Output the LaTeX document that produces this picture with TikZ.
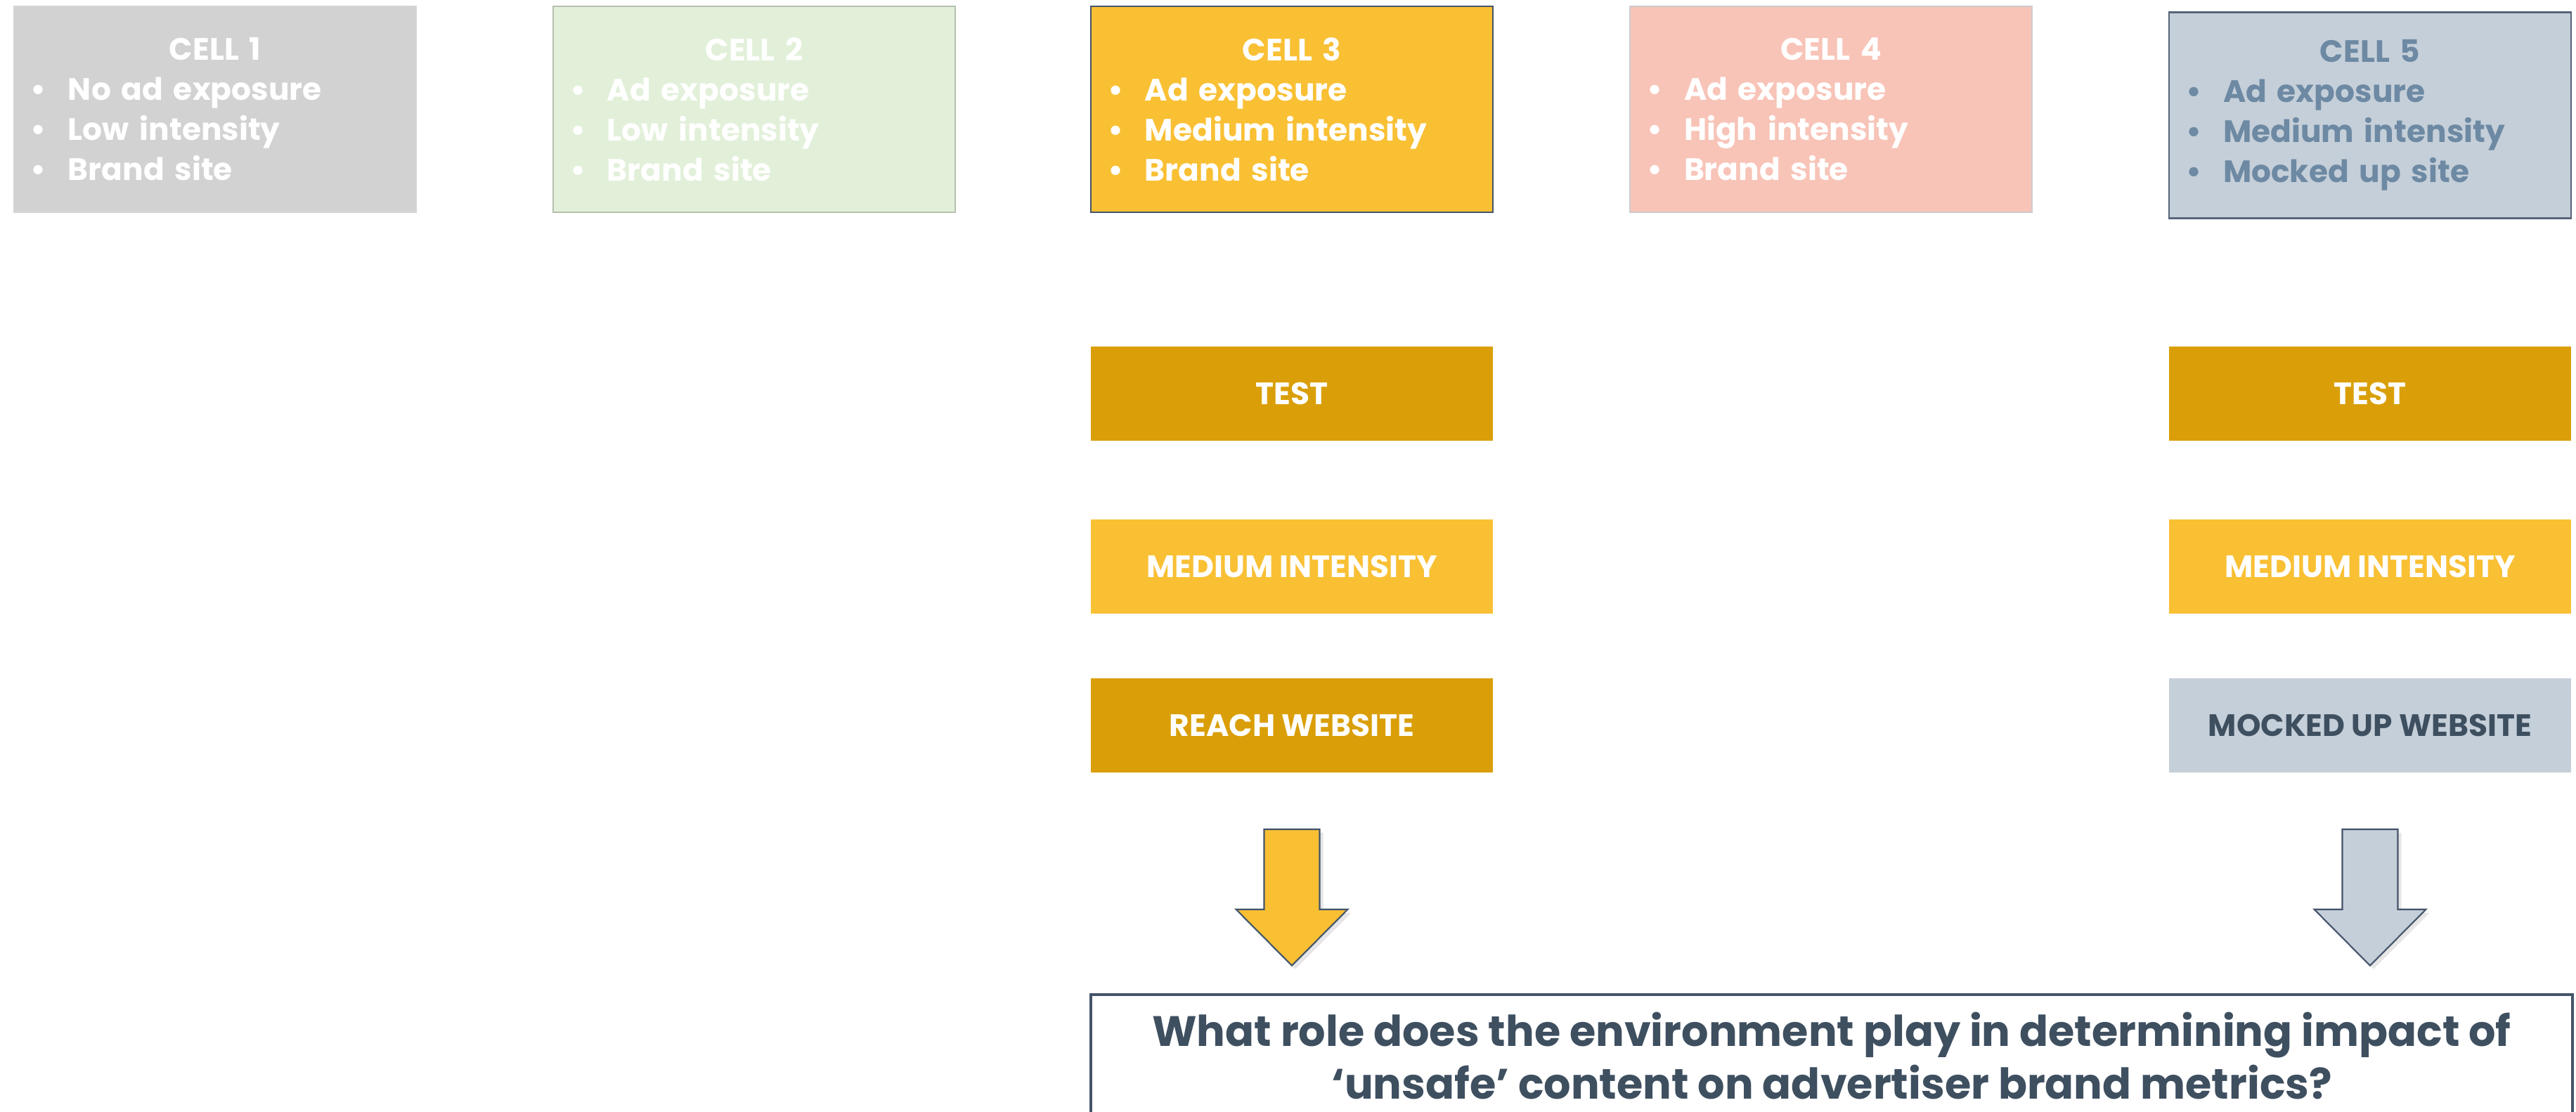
\documentclass[tikz,border=0pt]{standalone}
\usepackage{fontspec}
\setmainfont{Poppins}
\usepackage{tikz}
\usetikzlibrary{calc,shadows}

\definecolor{cellgray}{HTML}{D2D2D2}
\definecolor{cellgreen}{HTML}{E2F0D9}
\definecolor{cellgold}{HTML}{F9C034}
\definecolor{cellpink}{HTML}{F8C4B8}
\definecolor{cellblue}{HTML}{C5CFD9}
\definecolor{darkgold}{HTML}{DA9F08}
\definecolor{slate}{HTML}{44546A}
\definecolor{slatetext}{HTML}{3E4F60}
\definecolor{bluetext}{HTML}{6D89A3}

\tikzset{
    cell/.style={minimum width=5.72cm, minimum height=2.93cm, inner sep=0pt,
        text width=5.72cm, align=center, text=white, line width=0.8pt,
        font=\bfseries\fontsize{12.5}{16.2}\selectfont},
    bar/.style={minimum width=5.72cm, minimum height=1.34cm, inner sep=0pt,
        text=white, font=\bfseries\fontsize{12.5}{15}\selectfont},
    qbox/.style={draw=slate, line width=1pt, fill=white, minimum width=21.08cm,
        minimum height=1.74cm, align=center, text=slatetext,
        font=\bfseries\fontsize{17.2}{21.4}\selectfont},
    arrowline/.style={draw=slate, line width=0.6pt, line join=miter,
        drop shadow={opacity=0.2, shadow xshift=0.05cm, shadow yshift=-0.05cm}},
}

% one bullet line inside a cell
\newcommand{\bul}[1]{\makebox[5.72cm][l]{\hspace{0.24cm}\makebox[0.53cm][l]{\textbullet}#1}}
% fat arrow pointing down, #2 is the middle of its top edge
\newcommand{\blockarrow}[2]{%
    \draw[arrowline, fill=#1] #2 ++(-0.395,0) -- ++(0.79,0) -- ++(0,-1.14)
        -- ++(0.40,0) -- ++(-0.795,-0.80) -- ++(-0.795,0.80) -- ++(0.40,0) -- cycle;}

\begin{document}
\begin{tikzpicture}
    \useasboundingbox (0,0) rectangle (36.65,-15.82);

    % the five cells
    \node[cell, fill=cellgray, draw=cellgray!80!slate!60] (cell1) at (3.06,-1.555)
        {CELL 1\\ \bul{No ad exposure}\\ \bul{Low intensity}\\ \bul{Brand site}};
    \node[cell, fill=cellgreen, draw=cellgreen!80!black] (cell2) at (10.73,-1.555)
        {CELL 2\\ \bul{Ad exposure}\\ \bul{Low intensity}\\ \bul{Brand site}};
    \node[cell, fill=cellgold, draw=slate] (cell3) at (18.38,-1.555)
        {CELL 3\\ \bul{Ad exposure}\\ \bul{Medium intensity}\\ \bul{Brand site}};
    \node[cell, fill=cellpink, draw=black!20] (cell4) at (26.05,-1.555)
        {CELL 4\\ \bul{Ad exposure}\\ \bul{High intensity}\\ \bul{Brand site}};
    \node[cell, fill=cellblue, draw=slate!90, text=bluetext] (cell5) at (33.72,-1.64)
        {CELL 5\\ \bul{Ad exposure}\\ \bul{Medium intensity}\\ \bul{Mocked up site}};

    % breakdown of cell 3 and cell 5
    \node[bar, fill=darkgold] (test3) at (18.38,-5.60) {TEST};
    \node[bar, fill=cellgold] (med3) at (18.38,-8.06) {MEDIUM INTENSITY};
    \node[bar, fill=darkgold] (reach3) at (18.38,-10.32) {REACH WEBSITE};

    \node[bar, fill=darkgold] (test5) at (33.72,-5.60) {TEST};
    \node[bar, fill=cellgold] (med5) at (33.72,-8.06) {MEDIUM INTENSITY};
    \node[bar, fill=cellblue, text=slatetext] (mock5) at (33.72,-10.32) {MOCKED UP WEBSITE};

    % question at the bottom
    \node[qbox, anchor=north] (question) at (26.06,-14.13)
        {What role does the environment play in determining impact of\\
         ‘unsafe’ content on advertiser brand metrics?};

    \coordinate (a3) at ($(reach3.south)+(0,-0.80)$);
    \coordinate (a5) at ($(mock5.south)+(0,-0.80)$);
    \blockarrow{cellgold}{(a3)}
    \blockarrow{cellblue}{(a5)}
\end{tikzpicture}
\end{document}
